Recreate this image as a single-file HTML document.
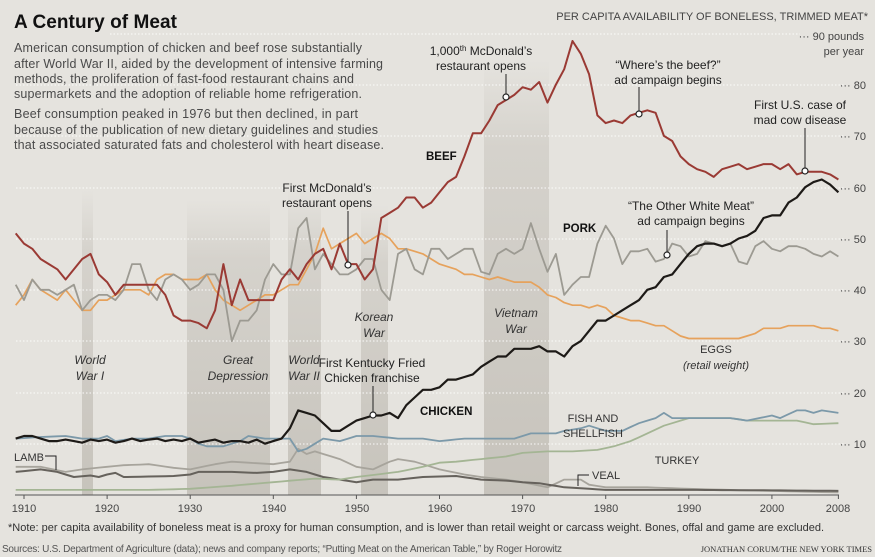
<!DOCTYPE html>
<html><head><meta charset="utf-8">
<style>
html,body{margin:0;padding:0;background:#e5e3de;}
svg{display:block;font-family:"Liberation Sans",sans-serif;}
</style></head>
<body>
<svg id="c" width="875" height="557" viewBox="0 0 875 557" xmlns="http://www.w3.org/2000/svg">
<defs>
<linearGradient id="bg1" x1="0" y1="0" x2="0" y2="1">
<stop offset="0" stop-color="#b0aba2" stop-opacity="0"/>
<stop offset="0.2" stop-color="#b0aba2" stop-opacity="0.3"/>
<stop offset="1" stop-color="#a8a399" stop-opacity="0.5"/>
</linearGradient>
</defs>
<rect width="875" height="557" fill="#e5e3de"/>
<rect x="82" y="190" width="11" height="305" fill="url(#bg1)"/>
<rect x="187" y="200" width="83" height="295" fill="url(#bg1)"/>
<rect x="288" y="190" width="33" height="305" fill="url(#bg1)"/>
<rect x="361" y="205" width="27" height="290" fill="url(#bg1)"/>
<rect x="484" y="60" width="65" height="435" fill="url(#bg1)"/>
<g stroke="#ffffff" stroke-width="1" stroke-dasharray="1.5,2" opacity="0.9">
<line x1="16" y1="444" x2="845" y2="444"/>
<line x1="16" y1="393" x2="845" y2="393"/>
<line x1="16" y1="341" x2="845" y2="341"/>
<line x1="16" y1="290" x2="845" y2="290"/>
<line x1="16" y1="239" x2="845" y2="239"/>
<line x1="16" y1="188" x2="845" y2="188"/>
<line x1="16" y1="136" x2="845" y2="136"/>
<line x1="16" y1="85" x2="845" y2="85"/>
<line x1="110" y1="34" x2="800" y2="34"/>
</g>
<g font-size="11" fill="#444" text-anchor="end">
<text x="866" y="448">··· 10</text>
<text x="866" y="397">··· 20</text>
<text x="866" y="345">··· 30</text>
<text x="866" y="294">··· 40</text>
<text x="866" y="243">··· 50</text>
<text x="866" y="192">··· 60</text>
<text x="866" y="140">··· 70</text>
<text x="866" y="89">··· 80</text>
<text x="864" y="40">··· 90 pounds</text>
<text x="864" y="55">per year</text>
<text x="868" y="20">PER CAPITA AVAILABILITY OF BONELESS, TRIMMED MEAT*</text>
</g>
<line x1="15" y1="495" x2="839" y2="495" stroke="#555" stroke-width="1"/>
<g id="ticks" stroke="#555"></g>
<g font-size="11" fill="#444" text-anchor="middle">
<text x="24" y="512">1910</text><text x="107" y="512">1920</text><text x="190" y="512">1930</text>
<text x="274" y="512">1940</text><text x="357" y="512">1950</text><text x="440" y="512">1960</text>
<text x="523" y="512">1970</text><text x="606" y="512">1980</text><text x="689" y="512">1990</text>
<text x="772" y="512">2000</text><text x="838" y="512">2008</text>
</g>
<g id="series" fill="none" stroke-linejoin="round"></g>
<text x="14" y="28" font-size="19" font-weight="bold" fill="#111" textLength="163">A Century of Meat</text>
<g font-size="12.5" fill="#4a4a4a">
<text x="14" y="52" textLength="348">American consumption of chicken and beef rose substantially</text>
<text x="14" y="68" textLength="369">after World War II, aided by the development of intensive farming</text>
<text x="14" y="83" textLength="340">methods, the proliferation of fast-food restaurant chains and</text>
<text x="14" y="98" textLength="348">supermarkets and the adoption of reliable home refrigeration.</text>
<text x="14" y="118" textLength="344">Beef consumption peaked in 1976 but then declined, in part</text>
<text x="14" y="134" textLength="364">because of the publication of new dietary guidelines and studies</text>
<text x="14" y="149" textLength="370">that associated saturated fats and cholesterol with heart disease.</text>
</g>
<g stroke="#222" stroke-width="1">
<line x1="506" y1="74" x2="506" y2="97"/>
<line x1="639" y1="87" x2="639" y2="114"/>
<line x1="805" y1="128" x2="805" y2="171"/>
<line x1="667" y1="230" x2="667" y2="255"/>
<line x1="348" y1="211" x2="348" y2="265"/>
<line x1="373" y1="386" x2="373" y2="415"/>
<polyline fill="none" points="45,456 56,456 56,470"/>
<polyline fill="none" points="589,475 578,475 578,486"/>
</g>
<g fill="#fff" stroke="#222" stroke-width="1.2">
<circle cx="506" cy="97" r="3"/><circle cx="639" cy="114" r="3"/><circle cx="805" cy="171" r="3"/>
<circle cx="667" cy="255" r="3"/><circle cx="348" cy="265" r="3"/><circle cx="373" cy="415" r="3"/>
</g>
<g font-size="12" fill="#222" text-anchor="middle">
<text x="481" y="55">1,000<tspan font-size="8" dy="-4">th</tspan><tspan dy="4"> McDonald’s</tspan></text>
<text x="481" y="70">restaurant opens</text>
<text x="668" y="69">“Where’s the beef?”</text>
<text x="668" y="84">ad campaign begins</text>
<text x="800" y="109">First U.S. case of</text>
<text x="800" y="124">mad cow disease</text>
<text x="691" y="210">“The Other White Meat”</text>
<text x="691" y="225">ad campaign begins</text>
<text x="327" y="192">First McDonald’s</text>
<text x="327" y="207">restaurant opens</text>
<text x="372" y="367">First Kentucky Fried</text>
<text x="372" y="382">Chicken franchise</text>
</g>
<g font-size="12" fill="#333" text-anchor="middle" font-style="italic">
<text x="90" y="364">World</text><text x="90" y="380">War I</text>
<text x="238" y="364">Great</text><text x="238" y="380">Depression</text>
<text x="304" y="364">World</text><text x="304" y="380">War II</text>
<text x="374" y="321">Korean</text><text x="374" y="337">War</text>
<text x="516" y="317">Vietnam</text><text x="516" y="333">War</text>
</g>
<g font-size="11.5" fill="#111" font-weight="bold">
<text x="426" y="160">BEEF</text>
<text x="563" y="232">PORK</text>
<text x="420" y="415">CHICKEN</text>
</g>
<g font-size="11" fill="#333" text-anchor="middle">
<text x="716" y="353">EGGS</text>
<text x="716" y="369" font-style="italic">(retail weight)</text>
<text x="593" y="422">FISH AND</text>
<text x="593" y="437">SHELLFISH</text>
<text x="677" y="464">TURKEY</text>
</g>
<g font-size="11" fill="#333">
<text x="14" y="461">LAMB</text>
<text x="592" y="479">VEAL</text>
</g>
<text x="8" y="531" font-size="11" fill="#333" textLength="816">*Note: per capita availability of boneless meat is a proxy for human consumption, and is lower than retail weight or carcass weight. Bones, offal and game are excluded.</text>
<text x="2" y="552" font-size="10" fill="#555" textLength="560">Sources: U.S. Department of Agriculture (data); news and company reports; “Putting Meat on the American Table,” by Roger Horowitz</text>
<text x="872" y="552" font-size="8.5" fill="#333" text-anchor="end" font-family="Liberation Serif, serif">JONATHAN CORUM/THE NEW YORK TIMES</text>
</svg>
<script>
function X(y){return 15.7+(y-1909)*8.31;}
function Y(v){return 495-v*5.13;}
function interp(pts){var m={};pts.sort(function(a,b){return a[0]-b[0]});for(var i=0;i<pts.length-1;i++){var a=pts[i],b=pts[i+1];for(var y=a[0];y<=b[0];y++){m[y]=a[1]+(b[1]-a[1])*(y-a[0])/(b[0]-a[0]);}}return m;}
function seq(start,arr){var o=[];for(var i=0;i<arr.length;i++)o.push([start+i,arr[i]]);return o;}
var beef=seq(1909,[51,49,48,46,45,44,42,44,46,47,43,41.5,39,41,41,41,41,41,39,35,34,34,33.5,32.5,36,45,37,42,38,38,38,38,42,44,42,45,47,48,44,49,45,45,42,44,54,55,56,58,58,56,57,59,61,62,66,70.5,70.5,73,76,77,78,79.5,79,80.5,76.5,80,83,88.5,86,82,74,72.5,73,72.5,74,74.5,75,74.5,70,69,66,64.5,63.5,63,62,63.5,64,64.5,63.5,64,64.5,64.5,63.5,64.5,62.5,63,63,63,62.5,61.5]);
var chicken=seq(1909,[11,11.5,11.5,11,10.5,10.5,10.8,10.5,10.2,10.8,10.5,10.8,10.2,10.5,11,10.5,10.8,11,10.5,10.8,10.5,11,10.2,10.5,10.8,10.2,10.5,10.5,10.2,10.8,10,10.5,11,13,16.5,16,15.5,14,12.5,12.5,13.5,14.5,15,15.5,15.5,16,15,17.5,19,20.5,20.5,21,22.5,22.5,23,23.5,25,26,27,27,28.5,28.5,28.5,29,28,28,27,29,30,32,34,34,35,36,37,38,40,40.5,42.5,43,45,47,48.5,49,49,48.5,49,50,50.5,51.5,54,54.5,54.5,57,58,60,61,61.5,60.5,59]);
var pork=seq(1909,[41,38,42,40,40,39,40,41,36,38,39,39,38,40,45,45,40,38,42,43,42,40,41,43,43,40,30,34,34,36,42,45,43,43,52,54,44,47,45,43,43,44,46,46,40,38,47,48,44,43,48,48,46,47,48,48,43.5,43,47,48,47,48,53,48,43.5,47,39,41,42.5,42.5,49,52.5,50,45,47.5,47.5,48,45.5,46,49,48.5,46.5,47,49.5,49,48.5,49,45.5,45,48.5,49.5,48,47.5,48.5,48.5,48,47,46.5,47.5,46.5]);
var eggs=seq(1909,[37,39,42,40,39,38,40,38,36,36,38,38,39,40,40,40,39,42,43,43,42,42,42,43,40,38,37,36,37,38,39,39,40,41,41,44,47,52,48,49,50,51,49,50,51,50,48,48,47.5,47,46,45,44.5,44,43,43,42.5,42,42.5,42,41.5,41.5,41.5,40.5,39,38.5,37.5,37,37,36.5,37,36.5,35,34.5,34,34,33.5,33,33,32,31,30.5,30.5,30.5,30.5,30.5,30.5,30.5,31,31.5,32.5,32.5,32.5,33,33,33,33,32.5,32.5,32]);
var fish=[[1909,11],[1912,11.3],[1915,11.5],[1917,11],[1919,11],[1920,11.5],[1921,10.5],[1923,11],[1925,11],[1927,11.5],[1929,11.5],[1930,11],[1931,10],[1932,9.5],[1934,9.5],[1936,10.5],[1937,11.5],[1939,11],[1942,11],[1943,8.5],[1944,9],[1946,11],[1948,10.5],[1950,11.5],[1952,11.5],[1955,11],[1958,11],[1960,10.5],[1963,11],[1966,11],[1969,11],[1971,12],[1974,12],[1975,12.5],[1977,13],[1978,13.5],[1980,12.5],[1982,12.5],[1984,14],[1986,15],[1987,16],[1988,15],[1990,15],[1993,15],[1995,15],[1997,14.5],[2000,15.5],[2001,15],[2003,16.5],[2004,16.5],[2005,16],[2006,16.5],[2008,16]];
var turkey=[[1909,1],[1925,1],[1930,1.2],[1935,1.8],[1940,2.5],[1945,3.2],[1948,3],[1950,3.5],[1955,4.5],[1958,5.5],[1960,6.3],[1962,6.5],[1965,7],[1968,7.5],[1970,8.2],[1973,8.5],[1976,8.5],[1979,8.8],[1981,9.5],[1983,10.5],[1985,12],[1987,13.5],[1989,14.5],[1990,15],[1995,15],[1997,14.5],[2000,14.5],[2003,14.5],[2005,13.8],[2008,14]];
var veal=[[1909,5.5],[1912,5.5],[1915,4.5],[1917,5],[1920,5.5],[1922,5.8],[1925,6],[1928,5.3],[1930,5],[1933,6],[1935,6.5],[1938,6.2],[1940,6],[1942,6.5],[1943,9],[1944,8],[1945,8.5],[1948,7],[1950,5.5],[1952,5],[1954,6.5],[1955,7],[1957,6.5],[1960,5],[1963,4],[1965,3.5],[1968,3],[1970,2.5],[1973,1.5],[1975,3],[1977,3],[1978,2],[1980,1.5],[1985,1.5],[1990,1.2],[2000,0.8],[2008,0.5]];
var lamb=[[1909,4.5],[1912,5],[1914,4.5],[1915,4],[1916,3.5],[1918,3.8],[1919,3.5],[1920,4],[1921,4.3],[1922,3.5],[1928,3.7],[1930,4],[1931,4.5],[1935,4.5],[1938,4.3],[1940,4.5],[1942,5],[1944,4.5],[1946,3.5],[1948,3],[1950,2.5],[1952,3],[1955,3],[1958,3.5],[1962,3.7],[1965,3],[1968,2.8],[1970,2.5],[1972,2.3],[1975,1.5],[1980,1],[1990,1],[2000,0.9],[2008,0.8]];
var S=[[veal,"#a7a49c",1.8],[lamb,"#66625c",2],[turkey,"#a4b594",1.8],[fish,"#7c99a9",1.8],[eggs,"#e6a25c",1.7],[pork,"#9c9a92",1.8],[chicken,"#1d1a17",2.2],[beef,"#9a3a34",2]];
var g=document.getElementById("series"),ns="http://www.w3.org/2000/svg";
S.forEach(function(s){var m=interp(s[0]);var d="";for(var y=1909;y<=2008;y++){if(m[y]===undefined)continue;d+=(d?"L":"M")+X(y).toFixed(1)+","+Y(m[y]).toFixed(1);}var p=document.createElementNS(ns,"path");p.setAttribute("d",d);p.setAttribute("stroke",s[1]);p.setAttribute("stroke-width",s[2]);g.appendChild(p);});
var t=document.getElementById("ticks");for(var y=1910;y<=2008;y+=10){var l=document.createElementNS(ns,"line");l.setAttribute("x1",X(y));l.setAttribute("x2",X(y));l.setAttribute("y1",495);l.setAttribute("y2",499);t.appendChild(l);}
var l2=document.createElementNS(ns,"line");l2.setAttribute("x1",X(2008));l2.setAttribute("x2",X(2008));l2.setAttribute("y1",495);l2.setAttribute("y2",499);t.appendChild(l2);
</script>
</body></html>
